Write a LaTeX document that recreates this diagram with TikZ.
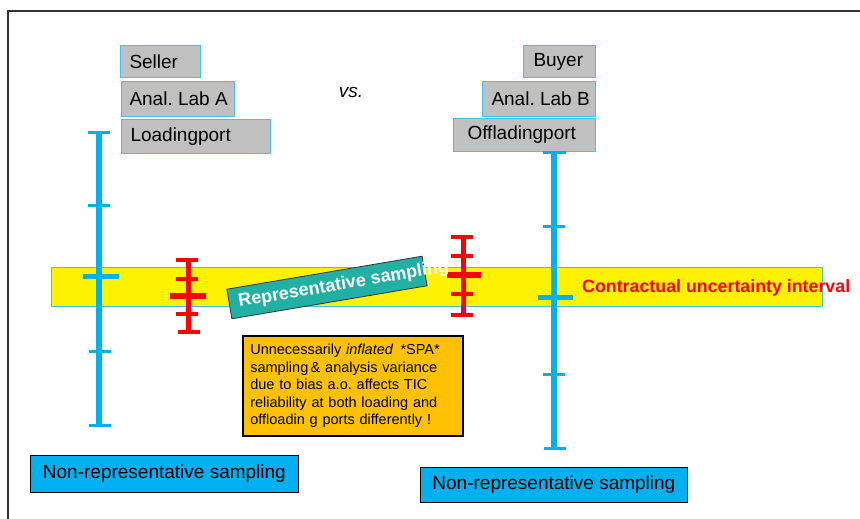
\documentclass[tikz,border=0pt]{standalone}
\usepackage{fontspec}
\setmainfont{Liberation Sans}
\definecolor{skyb}{RGB}{0,176,240}
\definecolor{lblue}{RGB}{60,195,240}
\definecolor{greyf}{RGB}{192,192,192}
\definecolor{orangef}{RGB}{255,192,0}
\definecolor{tealf}{RGB}{34,176,164}
\definecolor{framec}{RGB}{50,50,50}
\tikzset{
  greybox/.style={draw=lblue, line width=1pt, fill=greyf, anchor=north west, inner sep=0pt, font=\fontsize{19}{21}\selectfont},
  nonrep/.style={draw=black, line width=0.8pt, fill=skyb, anchor=north west, inner sep=0pt, font=\fontsize{19}{21}\selectfont},
  bluebar/.style={draw=skyb, line width=6pt},
  bluetick/.style={draw=skyb, line width=3pt},
  bluebig/.style={draw=skyb, line width=5pt},
  redbar/.style={draw=red, line width=5pt},
  redtick/.style={draw=red, line width=3.5pt},
  redbig/.style={draw=red, line width=6pt},
}
\begin{document}
\frenchspacing
\begin{tikzpicture}[x=1pt,y=-1pt]
\useasboundingbox (0,0) rectangle (860,519);
% slide frame
\coordinate (fr1) at (8,519);
\coordinate (fr2) at (8,11);
\coordinate (fr3) at (860,11);
\draw[framec, line width=1.6pt] (fr1) -- (fr2) -- (fr3);

% yellow band
\node[draw=lblue, line width=1pt, fill=yellow, minimum width=771pt, minimum height=39pt, inner sep=0pt, anchor=north west] (band) at (51,267) {};

% grey header boxes
\node[greybox, minimum width=80pt, minimum height=32pt] (seller) at (120,45) {\makebox[80pt][l]{\hspace*{9pt}Seller}};
\node[greybox, minimum width=113pt, minimum height=35pt] (labA) at (121,81) {\makebox[113pt][l]{\hspace*{8pt}Anal. Lab A}};
\node[greybox, minimum width=149pt, minimum height=34pt] (load) at (121,119) {\makebox[149pt][l]{\hspace*{9pt}Loadingport}};
\node[greybox, minimum width=72pt, minimum height=32pt] (buyer) at (523,45) {\makebox[72pt][l]{\hspace*{10pt}Buyer}};
\node[greybox, minimum width=113pt, minimum height=35pt] (labB) at (482,81) {\makebox[113pt][l]{\hspace*{9pt}Anal. Lab B}};
\node[greybox, minimum width=142pt, minimum height=33pt] (offl) at (453,118) {\makebox[142pt][l]{\hspace*{14pt}Offladingport}};

\node[font=\fontsize{19}{21}\selectfont\itshape, anchor=base, inner sep=0pt] (vs) at (351,97) {vs.};

% left blue bar
\coordinate (lbT) at (99,132); \coordinate (lbB) at (99,425);
\draw[bluebar] (lbT) -- (lbB);
\coordinate (lt1a) at (88,132); \coordinate (lt1b) at (110,132);
\coordinate (lt2a) at (88,205); \coordinate (lt2b) at (110,205);
\coordinate (lt3a) at (83,276); \coordinate (lt3b) at (119,276);
\coordinate (lt4a) at (89,351); \coordinate (lt4b) at (111,351);
\coordinate (lt5a) at (89,425); \coordinate (lt5b) at (111,425);
\draw[bluetick] (lt1a) -- (lt1b);
\draw[bluetick] (lt2a) -- (lt2b);
\draw[bluebig] (lt3a) -- (lt3b);
\draw[bluetick] (lt4a) -- (lt4b);
\draw[bluetick] (lt5a) -- (lt5b);

% right blue bar
\coordinate (rbT) at (554,152); \coordinate (rbB) at (554,448);
\draw[bluebar] (rbT) -- (rbB);
\coordinate (rt1a) at (543,152); \coordinate (rt1b) at (566,152);
\coordinate (rt2a) at (543,226); \coordinate (rt2b) at (565,226);
\coordinate (rt3a) at (538,297); \coordinate (rt3b) at (573,297);
\coordinate (rt4a) at (543,374); \coordinate (rt4b) at (565,374);
\coordinate (rt5a) at (544,448); \coordinate (rt5b) at (566,448);
\draw[bluetick] (rt1a) -- (rt1b);
\draw[bluetick] (rt2a) -- (rt2b);
\draw[bluebig] (rt3a) -- (rt3b);
\draw[bluetick] (rt4a) -- (rt4b);
\draw[bluetick] (rt5a) -- (rt5b);

% left red bar
\coordinate (lrT) at (188,260); \coordinate (lrB) at (188,332);
\draw[redbar] (lrT) -- (lrB);
\coordinate (lr1a) at (176,260); \coordinate (lr1b) at (198,260);
\coordinate (lr2a) at (176,279); \coordinate (lr2b) at (198,279);
\coordinate (lr3a) at (170,296); \coordinate (lr3b) at (206,296);
\coordinate (lr4a) at (176,314); \coordinate (lr4b) at (198,314);
\coordinate (lr5a) at (178,332); \coordinate (lr5b) at (200,332);
\draw[redtick] (lr1a) -- (lr1b);
\draw[redtick] (lr2a) -- (lr2b);
\draw[redbig] (lr3a) -- (lr3b);
\draw[redtick] (lr4a) -- (lr4b);
\draw[redtick] (lr5a) -- (lr5b);

% right red bar
\coordinate (rrT) at (463,237); \coordinate (rrB) at (463,315);
\draw[redbar] (rrT) -- (rrB);
\coordinate (rr1a) at (451,237); \coordinate (rr1b) at (473,237);
\coordinate (rr2a) at (451,256); \coordinate (rr2b) at (473,256);
\coordinate (rr3a) at (447,275); \coordinate (rr3b) at (481,275);
\coordinate (rr4a) at (451,294); \coordinate (rr4b) at (473,294);
\coordinate (rr5a) at (451,315); \coordinate (rr5b) at (473,315);
\draw[redtick] (rr1a) -- (rr1b);
\draw[redtick] (rr2a) -- (rr2b);
\draw[redbig] (rr3a) -- (rr3b);
\draw[redtick] (rr4a) -- (rr4b);
\draw[redtick] (rr5a) -- (rr5b);

% representative sampling
\node[draw=black!80, line width=0.8pt, fill=tealf, minimum width=198pt, minimum height=30pt, inner sep=0pt, rotate=9.6, text=white, font=\bfseries\fontsize{18}{20}\selectfont] (rep) at (327,287.5) {\makebox[0pt]{\hspace*{34pt}Representative sampling}};

% contractual
\node[text=red, font=\bfseries\fontsize{17.8}{20}\selectfont, anchor=base west, inner sep=0pt] (contract) at (582,292) {Contractual uncertainty interval};

% orange note
\node[draw=black, line width=1.6pt, fill=orangef, anchor=north west, minimum width=220pt, minimum height=100pt, text width=205pt, inner xsep=0pt, align=left, font=\fontsize{14.5}{17.5}\selectfont] (note) at (242,335) {Unnecessarily \textit{inflated}\, *SPA*\\sampling\,\& analysis variance\\due to bias a.o. affects TIC\\reliability at both loading and\\offloadin g ports differently !};

% non-representative boxes
\node[nonrep, minimum width=268pt, minimum height=37pt] (nr1) at (30,455) {Non-representative sampling};
\node[nonrep, minimum width=267pt, minimum height=35pt] (nr2) at (420,467) {Non-representative sampling};
\end{tikzpicture}
\end{document}
